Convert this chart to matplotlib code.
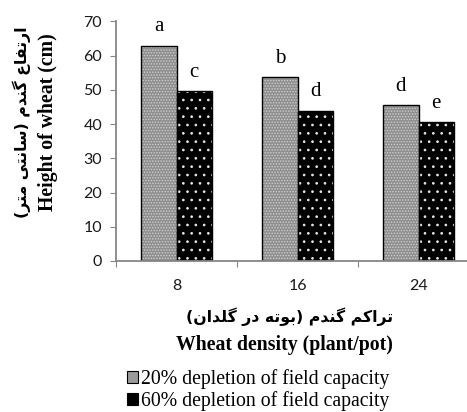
import numpy as np
import matplotlib
matplotlib.use("Agg")
import matplotlib.pyplot as plt
from matplotlib.patches import Patch

# data
densities = ["8", "16", "24"]
dep20 = [62.9, 53.7, 45.5]
dep60 = [49.6, 43.8, 40.5]
letters20 = ["a", "b", "d"]
letters60 = ["c", "d", "e"]
series_names = ["20% depletion of field capacity", "60% depletion of field capacity"]

ylabel_fa = "ارتفاع گندم (سانتی متر)"
ylabel_en = "Height of wheat (cm)"
xlabel_fa = "تراکم گندم (بوته در گلدان)"
xlabel_en = "Wheat density (plant/pot)"

# simple persian shaping: (isolated, final, initial, medial)
FORMS = {
    'ا': ('\uFE8D', '\uFE8E', None, None),
    'ر': ('\uFEAD', '\uFEAE', None, None),
    'د': ('\uFEA9', '\uFEAA', None, None),
    'و': ('\uFEED', '\uFEEE', None, None),
    'ت': ('\uFE95', '\uFE96', '\uFE97', '\uFE98'),
    'ب': ('\uFE8F', '\uFE90', '\uFE91', '\uFE92'),
    'ف': ('\uFED1', '\uFED2', '\uFED3', '\uFED4'),
    'ع': ('\uFEC9', '\uFECA', '\uFECB', '\uFECC'),
    'گ': ('\uFB92', '\uFB93', '\uFB94', '\uFB95'),
    'ک': ('\uFB8E', '\uFB8F', '\uFB90', '\uFB91'),
    'ن': ('\uFEE5', '\uFEE6', '\uFEE7', '\uFEE8'),
    'م': ('\uFEE1', '\uFEE2', '\uFEE3', '\uFEE4'),
    'س': ('\uFEB1', '\uFEB2', '\uFEB3', '\uFEB4'),
    'ی': ('\uFBFC', '\uFBFD', '\uFBFE', '\uFBFF'),
    'ه': ('\uFEE9', '\uFEEA', '\uFEEB', '\uFEEC'),
    'ل': ('\uFEDD', '\uFEDE', '\uFEDF', '\uFEE0'),
}


def shape_fa(text):
    out = []
    for i, ch in enumerate(text):
        if ch not in FORMS:
            out.append(ch)
            continue
        prev = text[i - 1] if i > 0 else ""
        nxt = text[i + 1] if i < len(text) - 1 else ""
        join_prev = prev in FORMS and FORMS[prev][2] is not None
        join_next = nxt in FORMS and FORMS[ch][2] is not None
        f = FORMS[ch]
        if join_prev and join_next:
            out.append(f[3])
        elif join_prev:
            out.append(f[1])
        elif join_next:
            out.append(f[2])
        else:
            out.append(f[0])
    vis = "".join(reversed(out))
    return vis.translate(str.maketrans("()", ")("))


W, H = 467, 412
fig = plt.figure(figsize=(W / 100, H / 100), dpi=100)
ax = fig.add_axes([116 / W, 1 - 261 / H, 363 / W, (261 - 21.5) / H])

x = np.arange(1, len(densities) + 1)
bw = 0.293
grey = "#868686"

# 20% bars: fine grey texture
plt.rcParams['hatch.linewidth'] = 0.7
ax.bar(x - bw / 2, dep20, bw, color="#8e8e8e", edgecolor="#cfcfcf", hatch="......", linewidth=0)
ax.bar(x - bw / 2, dep20, bw, fill=False, edgecolor="black", linewidth=1.0)
# 60% bars: black with white dots
ax.bar(x + bw / 2, dep60, bw, color="black", edgecolor="none", linewidth=0)
ax.bar(x + bw / 2, dep60, bw, color="none", edgecolor="#e8e8e8", hatch="..", linewidth=0)
ax.bar(x + bw / 2, dep60, bw, fill=False, edgecolor="black", linewidth=1.0)

for xi, v, t in zip(x - bw / 2, dep20, letters20):
    ax.annotate(t, (xi, v), xytext=(0, 7), textcoords="offset points", ha="center", va="bottom",
                family="Liberation Serif", fontsize=15)
for xi, v, t in zip(x + bw / 2, dep60, letters60):
    ax.annotate(t, (xi, v), xytext=(0, 7), textcoords="offset points", ha="center", va="bottom",
                family="Liberation Serif", fontsize=15)

ax.set_xlim(0.5, 3.5)
ax.set_ylim(0, 70)
ax.set_yticks(np.arange(0, 71, 10))
ax.set_xticks([0.5, 1.5, 2.5, 3.5])
ax.set_xticklabels([])
ax.set_xticks(x, minor=True)
ax.set_xticklabels(densities, minor=True)
ax.tick_params(axis="x", which="minor", length=0, pad=13)
ax.tick_params(axis="x", which="major", length=4, color=grey, direction="out")
ax.tick_params(axis="y", length=4, color=grey, direction="out", pad=6)
for lab in ax.get_xticklabels(minor=True) + ax.get_yticklabels():
    lab.set_family("Lato")
    lab.set_fontsize(11.5)
    lab.set_color("#1a1a1a")

for s in ["top", "right"]:
    ax.spines[s].set_visible(False)
for s in ["left", "bottom"]:
    ax.spines[s].set_color(grey)
    ax.spines[s].set_linewidth(1.3)

# axis titles
fig.text(22 / W, 1 - 122 / H, shape_fa(ylabel_fa), rotation=90, ha="center", va="center",
         family="DejaVu Sans", weight="bold", fontsize=11.3)
fig.text(48 / W, 1 - 122 / H, ylabel_en, rotation=90, ha="center", va="center",
         family="Liberation Serif", weight="bold", fontsize=14.2)
fig.text(393 / W, 1 - 317 / H, shape_fa(xlabel_fa), ha="right", va="center",
         family="DejaVu Sans", weight="bold", fontsize=11.3)
fig.text(393 / W, 1 - 345 / H, xlabel_en, ha="right", va="center",
         family="Liberation Serif", weight="bold", fontsize=14.2)

handles = [
    Patch(facecolor="#9a9a9a", edgecolor="black", linewidth=0.8),
    Patch(facecolor="black", edgecolor="black", linewidth=0.8),
]
fig.legend(handles, series_names, loc="upper left", bbox_to_anchor=(127 / W, 1 - 369 / H),
           frameon=False, handlelength=0.55, handleheight=0.55, handletextpad=0.15,
           labelspacing=0.1, borderaxespad=0, borderpad=0,
           prop={"family": "Liberation Serif", "size": 14.2})

fig.savefig("out.png", dpi=100)
